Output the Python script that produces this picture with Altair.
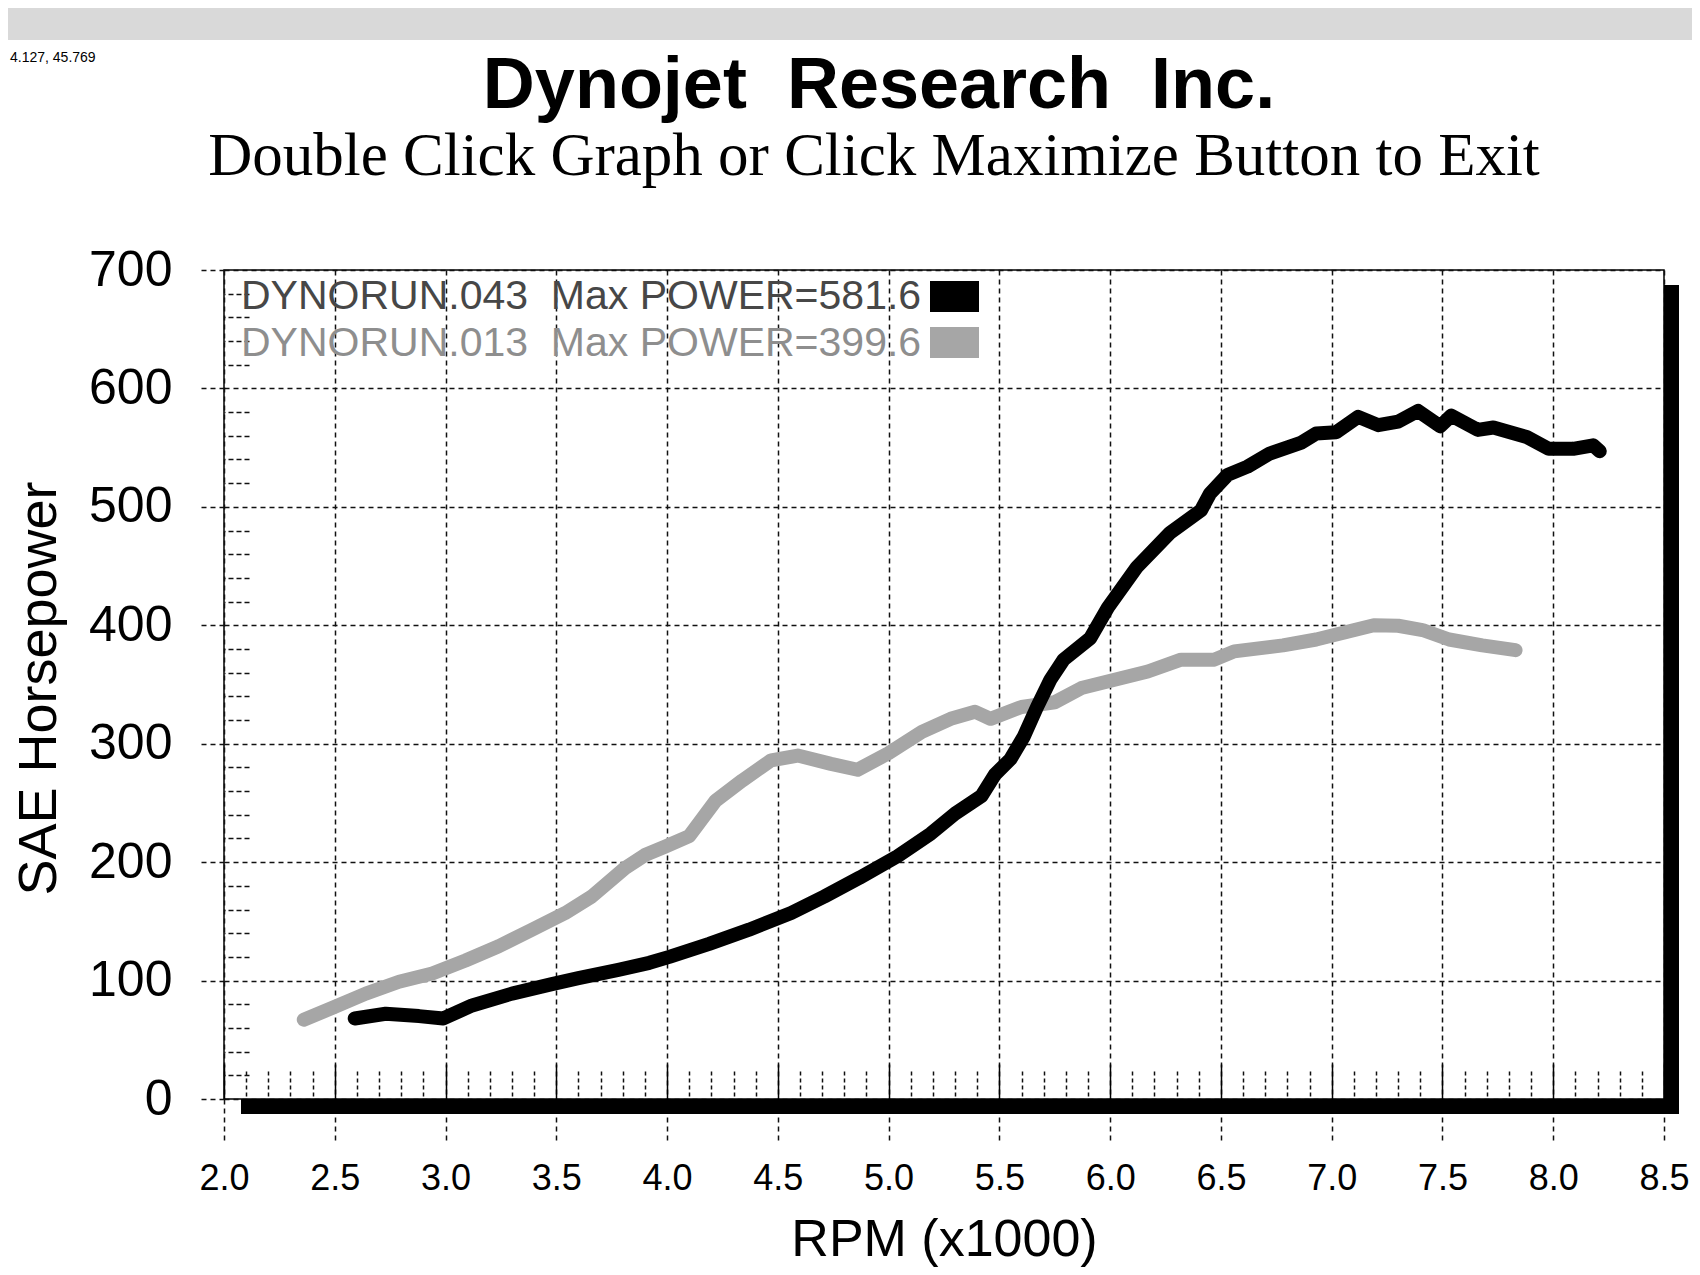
import altair as alt
import pandas as pd

# ---------------- data ----------------
run_names = ["DYNORUN.043", "DYNORUN.013"]
max_power = ["581.6", "399.6"]
line_colors = ["#000000", "#a6a6a6"]
label_colors = ["#474747", "#8e8e8e"]

rpm_043 = [2.59, 2.73, 2.88, 2.99, 3.12, 3.30, 3.48, 3.60, 3.78, 3.92, 4.01, 4.19,
           4.37, 4.56, 4.71, 4.87, 5.04, 5.19, 5.30, 5.42, 5.48, 5.55, 5.61, 5.67,
           5.73, 5.79, 5.91, 5.99, 6.12, 6.27, 6.41, 6.45, 6.53, 6.62, 6.72, 6.86,
           6.93, 7.02, 7.12, 7.21, 7.30, 7.39, 7.49, 7.54, 7.66, 7.73, 7.88, 7.98,
           8.09, 8.18, 8.21]
hp_043 = [68, 72, 70, 68, 79, 89, 97, 102, 109, 115, 120, 131,
          143, 157, 171, 187, 205, 224, 241, 256, 274, 287, 306, 331,
          354, 371, 389, 415, 449, 478, 497, 511, 527, 534, 545, 554,
          562, 563, 576, 569, 572, 581, 568, 577, 565, 567, 559, 549,
          549, 552, 547]

rpm_013 = [2.36, 2.49, 2.64, 2.79, 2.94, 3.09, 3.24, 3.39, 3.54, 3.66, 3.81, 3.90,
           3.99, 4.10, 4.22, 4.34, 4.47, 4.59, 4.74, 4.86, 5.00, 5.15, 5.28, 5.39,
           5.46, 5.60, 5.75, 5.87, 6.02, 6.17, 6.32, 6.47, 6.56, 6.78, 6.93, 7.08,
           7.19, 7.30, 7.41, 7.53, 7.68, 7.83]
hp_013 = [67, 77, 89, 99, 106, 117, 129, 143, 157, 171, 195, 206,
          213, 222, 252, 269, 286, 290, 283, 278, 292, 310, 321, 327,
          321, 331, 335, 347, 354, 361, 371, 371, 378, 383, 388, 395,
          400, 399.6, 396, 388, 383, 379]

x_ticks = [2.0, 2.5, 3.0, 3.5, 4.0, 4.5, 5.0, 5.5, 6.0, 6.5, 7.0, 7.5, 8.0, 8.5]
x_minor = [2.1, 2.2, 2.3, 2.4, 2.6, 2.7, 2.8, 2.9, 3.1, 3.2, 3.3, 3.4,
           3.6, 3.7, 3.8, 3.9, 4.1, 4.2, 4.3, 4.4, 4.6, 4.7, 4.8, 4.9,
           5.1, 5.2, 5.3, 5.4, 5.6, 5.7, 5.8, 5.9, 6.1, 6.2, 6.3, 6.4,
           6.6, 6.7, 6.8, 6.9, 7.1, 7.2, 7.3, 7.4, 7.6, 7.7, 7.8, 7.9,
           8.1, 8.2, 8.3, 8.4]
y_ticks = [0, 100, 200, 300, 400, 500, 600, 700]
y_minor = [20, 40, 60, 80, 120, 140, 160, 180, 220, 240, 260, 280,
           320, 340, 360, 380, 420, 440, 460, 480, 520, 540, 560, 580,
           620, 640, 660, 680]

title_text = "Dynojet\u00a0\u00a0Research\u00a0\u00a0Inc."
subtitle_text = "Double Click Graph or Click Maximize Button to Exit"
cursor_text = "4.127, 45.769"
x_title = "RPM (x1000)"
y_title = "SAE Horsepower"

# ---------------- layout ----------------
W, H = 1440, 829
PAD_L, PAD_T, PAD_R, PAD_B = 216, 262, 28, 168
FONT = "Liberation Sans"

df_043 = pd.DataFrame({"rpm": rpm_043, "hp": hp_043, "run": run_names[0]})
df_013 = pd.DataFrame({"rpm": rpm_013, "hp": hp_013, "run": run_names[1]})

xscale = alt.Scale(domain=[2.0, 8.5], nice=False, zero=False)
yscale = alt.Scale(domain=[0, 700], nice=False)
cscale = alt.Scale(domain=run_names, range=line_colors)

grid_common = dict(gridDash=[5, 4], gridColor="#111111", gridWidth=1.5)

main_x_axis = alt.Axis(
    orient="bottom", values=x_ticks, format=".1f", grid=True, domain=False,
    tickSize=43, tickDash=[5, 4], tickColor="#111111", tickWidth=1.5,
    labelFontSize=36, labelPadding=19, labelColor="#000000", labelFont=FONT,
    labelFlush=False, labelOverlap=False, labelBound=False,
    title=x_title, titleFontSize=52, titleFontWeight="normal", titleFont=FONT,
    titleColor="#000000", titleY=156, titleBaseline="alphabetic",
    **grid_common)
main_y_axis = alt.Axis(
    orient="left", values=y_ticks, grid=True, domain=False,
    tickSize=24, tickDash=[5, 4], tickColor="#111111", tickWidth=1.5,
    labelFontSize=50, labelPadding=28, labelColor="#000000", labelFont=FONT,
    labelFlush=False, labelOverlap=False, labelBound=False,
    title=y_title, titleFontSize=54, titleFontWeight="normal", titleFont=FONT,
    titleColor="#000000", titleX=-169, titleY=418, titleAngle=270,
    titleBaseline="alphabetic", titleAlign="center",
    **grid_common)
minor_x_axis = alt.Axis(
    orient="bottom", values=x_minor, offset=-28, tickSize=28, tickDash=[4, 3],
    tickColor="#111111", tickWidth=1.5, labels=False, domain=False, grid=False,
    title=None)
minor_y_axis = alt.Axis(
    orient="left", values=y_minor, offset=-25, tickSize=25, tickDash=[5, 3],
    tickColor="#111111", tickWidth=1.5, labels=False, domain=False, grid=False,
    title=None)
major_in_x_axis = alt.Axis(
    orient="bottom", values=x_ticks, offset=-35, tickSize=35,
    tickColor="#000000", tickWidth=1.5, labels=False, domain=False, grid=False,
    title=None)

line_style = dict(strokeWidth=14, strokeCap="round", strokeJoin="round")

gray_line = alt.Chart(df_013).mark_line(**line_style).encode(
    x=alt.X("rpm:Q", scale=xscale, axis=minor_x_axis),
    y=alt.Y("hp:Q", scale=yscale, axis=minor_y_axis),
    color=alt.Color("run:N", scale=cscale, legend=None),
)
black_line = alt.Chart(df_043).mark_line(**line_style).encode(
    x=alt.X("rpm:Q", scale=xscale, axis=main_x_axis),
    y=alt.Y("hp:Q", scale=yscale, axis=main_y_axis),
    color=alt.Color("run:N", scale=cscale, legend=None),
)
tick_host = alt.Chart(df_043).mark_point(opacity=0).encode(
    x=alt.X("rpm:Q", scale=xscale, axis=major_in_x_axis),
    y=alt.Y("hp:Q", scale=yscale, axis=None),
)

def one(d):
    return alt.Chart(pd.DataFrame(d))

# drop shadow of the plot frame
shadow_bottom = one({"k": [0]}).mark_rect(color="#000000").encode(
    x=alt.value(17), x2=alt.value(W + 15), y=alt.value(H), y2=alt.value(H + 15))
shadow_right = one({"k": [0]}).mark_rect(color="#000000").encode(
    x=alt.value(W), x2=alt.value(W + 15), y=alt.value(15), y2=alt.value(H + 15))

# window strip and texts above the plot
top_strip = one({"k": [0]}).mark_rect(color="#d9d9d9").encode(
    x=alt.value(-PAD_L), x2=alt.value(W + PAD_R), y=alt.value(-PAD_T), y2=alt.value(-230))
cursor = one({"t": [cursor_text]}).mark_text(
    font=FONT, fontSize=14, align="left", baseline="alphabetic", color="#000000"
).encode(text="t:N", x=alt.value(-214), y=alt.value(-208))
title = one({"t": [title_text]}).mark_text(
    font=FONT, fontSize=72, fontWeight="bold", align="center",
    baseline="alphabetic", color="#000000"
).encode(text="t:N", x=alt.value(655), y=alt.value(-162))
subtitle = one({"t": [subtitle_text]}).mark_text(
    font="Liberation Serif", fontSize=61, align="center",
    baseline="alphabetic", color="#000000"
).encode(text="t:N", x=alt.value(650), y=alt.value(-95))

# legend inside the plot (text followed by a colour swatch)
legend_layers = []
for i in range(len(run_names)):
    label = f"{run_names[i]}\u00a0\u00a0Max POWER={max_power[i]}"
    legend_layers.append(
        one({"t": [label]}).mark_text(
            font=FONT, fontSize=41, align="left", baseline="alphabetic",
            color=label_colors[i]
        ).encode(text="t:N", x=alt.value(17), y=alt.value(39 + 47 * i))
    )
    legend_layers.append(
        one({"k": [0]}).mark_rect(color=line_colors[i]).encode(
            x=alt.value(706), x2=alt.value(755),
            y=alt.value(11 + 46 * i), y2=alt.value(42 + 46 * i))
    )

chart = alt.layer(
    tick_host, gray_line, black_line, shadow_bottom, shadow_right,
    top_strip, cursor, title, subtitle, *legend_layers
).resolve_axis(
    x="independent", y="independent"
).properties(
    width=W, height=H,
    padding={"left": PAD_L, "top": PAD_T, "right": PAD_R, "bottom": PAD_B},
    autosize=alt.AutoSizeParams(type="none"),
    background="#ffffff",
).configure(font=FONT).configure_view(
    stroke="#000000", strokeWidth=1.5, fill="#ffffff"
)

chart.save("out.html", embed_options={"renderer": "svg", "actions": False})
